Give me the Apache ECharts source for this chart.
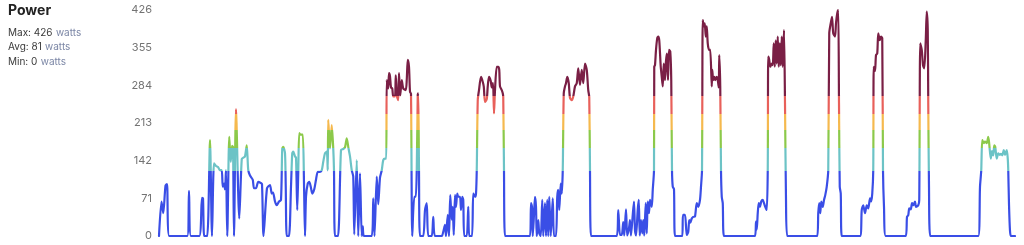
<!DOCTYPE html>
<html>
<head>
<meta charset="utf-8">
<script src="https://cdn.jsdelivr.net/npm/echarts@6/dist/echarts.min.js"></script>
<style>
  html, body { margin: 0; padding: 0; background: #ffffff; }
  #chart { width: 1024px; height: 245px; }
</style>
</head>
<body>
<div id="chart"></div>
<script>
// ---- data ----
const title = 'Power';
const statLabels = ['Max:', 'Avg:', 'Min:'];
const statValues = [426, 81, 0];
const statUnit = 'watts';
const yTicks = [0, 71, 142, 213, 284, 355, 426];
// zone thresholds (watts) and colours
const zoneBreaks = [123, 166, 199, 230, 264];
const zoneColors = ['#3a4ee6', '#6cc3c6', '#8cc94a', '#f5b94e', '#e8605a', '#7a1f45'];
// [elapsed seconds, watts]
const samples = [
[0,0],[10,65],[17,43],[26,95],[32,98],[41,0],[113,0],[120,85],[128,0],[161,0],[172,72],[176,71],[181,0],
[193,0],[204,181],[212,0],[220,137],[228,132],[236,130],[244,124],[251,124],[255,93],[260,99],[264,88],[268,124],[273,0],
[281,187],[287,140],[292,170],[296,168],[300,0],[308,239],[321,33],[331,145],[338,148],[344,150],[351,171],[357,124],
[364,114],[375,106],[380,90],[388,90],[397,102],[407,100],[412,98],[418,0],[432,90],[444,96],[451,80],[456,82],[464,65],
[471,58],[480,65],[488,68],[493,165],[497,168],[504,156],[507,93],[511,0],[520,0],[528,93],[533,156],[537,159],[544,150],
[548,148],[553,49],[557,120],[561,194],[567,191],[575,191],[580,99],[584,0],[588,74],[595,99],[601,102],[607,93],[613,80],
[621,88],[628,106],[635,121],[644,121],[651,124],[657,140],[664,156],[671,159],[675,124],[677,219],[684,165],[691,209],
[697,165],[700,124],[704,0],[716,0],[728,162],[737,164],[744,167],[751,184],[757,168],[764,150],[771,124],[777,112],[781,3],
[791,143],[797,0],[804,118],[811,0],[815,18],[820,0],[851,0],[857,71],[862,0],[871,112],[877,60],[884,110],[891,124],
[897,143],[904,146],[909,146],[911,294],[917,278],[920,307],[924,301],[928,280],[933,278],[937,263],[944,263],[947,303],
[952,263],[957,256],[960,307],[965,265],[971,294],[977,278],[987,275],[991,294],[995,332],[1000,319],[1004,272],[1008,268],
[1013,0],[1021,74],[1027,74],[1031,124],[1035,266],[1037,269],[1040,124],[1044,0],[1057,0],[1064,49],[1071,62],[1077,0],
[1091,0],[1097,36],[1104,0],[1131,0],[1137,8],[1144,21],[1148,0],[1155,40],[1160,0],[1165,77],[1171,31],[1175,55],[1179,2],
[1184,77],[1188,55],[1193,80],[1197,74],[1204,74],[1208,49],[1213,74],[1217,68],[1221,0],[1231,0],[1237,55],[1241,0],
[1252,0],[1257,80],[1264,74],[1268,80],[1271,124],[1275,256],[1280,275],[1288,300],[1293,294],[1299,282],[1304,253],
[1311,258],[1315,282],[1320,300],[1327,292],[1331,280],[1336,288],[1340,231],[1344,275],[1351,319],[1357,319],[1361,313],
[1364,282],[1371,275],[1375,269],[1377,262],[1380,124],[1384,0],[1484,0],[1488,62],[1492,55],[1495,0],[1500,40],[1504,74],
[1508,55],[1511,0],[1517,30],[1521,5],[1527,0],[1533,68],[1537,0],[1544,62],[1548,0],[1553,68],[1557,0],[1561,74],[1567,0],
[1575,71],[1580,0],[1588,0],[1593,74],[1597,87],[1601,49],[1607,99],[1611,80],[1615,124],[1619,269],[1624,282],[1628,288],
[1633,300],[1639,288],[1644,260],[1651,256],[1657,263],[1664,282],[1671,288],[1677,316],[1684,285],[1691,313],[1697,288],
[1704,325],[1711,313],[1717,275],[1721,262],[1724,124],[1728,0],[1831,0],[1837,49],[1844,2],[1851,2],[1857,26],[1861,1],
[1868,50],[1873,1],[1880,15],[1884,30],[1888,1],[1895,40],[1900,65],[1904,10],[1908,1],[1915,50],[1919,68],[1923,1],
[1928,30],[1933,5],[1937,30],[1941,1],[1947,62],[1951,5],[1955,65],[1960,43],[1964,68],[1971,55],[1975,87],[1980,124],
[1981,319],[1984,322],[1988,351],[1993,373],[1997,376],[2001,369],[2007,319],[2011,300],[2015,282],[2019,325],[2024,294],
[2028,330],[2032,344],[2036,294],[2040,351],[2045,348],[2049,294],[2052,124],[2055,93],[2060,88],[2064,0],[2093,0],
[2096,40],[2104,40],[2111,2],[2117,8],[2121,30],[2125,25],[2131,33],[2137,36],[2144,37],[2151,62],[2157,55],[2164,68],
[2168,93],[2172,124],[2175,407],[2179,395],[2183,401],[2187,376],[2191,395],[2195,363],[2200,351],[2205,351],[2211,282],
[2213,313],[2217,294],[2221,300],[2225,294],[2231,300],[2235,294],[2239,280],[2241,341],[2245,282],[2248,124],[2251,74],
[2255,62],[2260,0],[2384,0],[2388,27],[2391,12],[2395,43],[2399,62],[2404,55],[2409,65],[2415,68],[2420,62],[2425,55],
[2431,49],[2435,124],[2437,338],[2441,332],[2445,319],[2451,325],[2455,322],[2459,363],[2463,319],[2467,369],[2471,325],
[2475,376],[2479,319],[2483,363],[2487,322],[2491,376],[2495,319],[2500,388],[2504,250],[2508,68],[2513,0],[2633,0],
[2637,43],[2641,62],[2645,43],[2649,65],[2655,55],[2660,68],[2665,77],[2671,93],[2677,124],[2681,382],[2687,401],
[2692,413],[2697,382],[2704,376],[2708,401],[2713,420],[2717,426],[2720,250],[2723,93],[2727,80],[2731,0],[2804,0],
[2811,49],[2817,58],[2824,43],[2831,58],[2837,52],[2844,71],[2848,65],[2853,80],[2857,124],[2859,319],[2864,311],
[2868,341],[2873,344],[2877,382],[2883,369],[2888,376],[2893,373],[2896,124],[2900,55],[2907,0],[2987,0],[2992,36],
[2997,39],[3001,52],[3007,50],[3012,62],[3017,58],[3024,65],[3028,55],[3037,58],[3041,68],[3045,363],[3051,351],
[3056,322],[3061,316],[3067,369],[3071,423],[3075,389],[3077,250],[3080,93],[3085,0],[3277,0],[3284,93],[3289,124],
[3293,181],[3299,175],[3304,178],[3311,175],[3317,187],[3321,173],[3327,146],[3332,160],[3337,152],[3341,171],[3345,168],
[3351,146],[3357,156],[3363,153],[3368,155],[3373,152],[3379,162],[3384,153],[3391,162],[3395,146],[3397,124],[3400,60],
[3404,10],[3408,0],[3424,0]
];

// ---- chart ----
const chart = echarts.init(document.getElementById('chart'), null, { renderer: 'canvas' });

const pieces = [];
for (let i = 0; i < zoneColors.length; i++) {
  const p = { color: zoneColors[i] };
  if (i > 0) p.gte = zoneBreaks[i - 1];
  if (i < zoneBreaks.length) p.lt = zoneBreaks[i];
  pieces.push(p);
}

const font = 'Inter, "Noto Sans", sans-serif';
const statTexts = statLabels.map((lab, i) => ({
  type: 'text',
  left: 8,
  top: 27 + i * 14.3,
  style: {
    text: '{a|' + lab + ' ' + statValues[i] + '} {b|' + statUnit + '}',
    rich: {
      a: { fontFamily: font, fontSize: 10, fill: '#3a3a3a' },
      b: { fontFamily: font, fontSize: 10, fill: '#7c87a6' }
    }
  }
}));

chart.setOption({
  animation: false,
  grid: { left: 159, right: 9, top: 10, bottom: 9, containLabel: false },
  xAxis: {
    type: 'value',
    min: samples[0][0],
    max: samples[samples.length - 1][0],
    show: false
  },
  yAxis: {
    type: 'value',
    min: yTicks[0],
    max: yTicks[yTicks.length - 1],
    interval: yTicks[1] - yTicks[0],
    axisLine: { show: false },
    axisTick: { show: false },
    splitLine: { show: false },
    axisLabel: { color: '#737373', fontSize: 11, fontFamily: font, margin: 7 }
  },
  visualMap: {
    type: 'piecewise',
    show: false,
    dimension: 1,
    pieces: pieces
  },
  series: [{
    type: 'line',
    data: samples,
    showSymbol: false,
    smooth: 0.25,
    lineStyle: { width: 2.2, join: 'round', cap: 'round' }
  }],
  graphic: [{
    type: 'text',
    left: 8,
    top: 4,
    style: { text: title, fontFamily: font, fontSize: 14, fontWeight: 'bold', fill: '#222222' }
  }].concat(statTexts)
});
</script>
</body>
</html>
